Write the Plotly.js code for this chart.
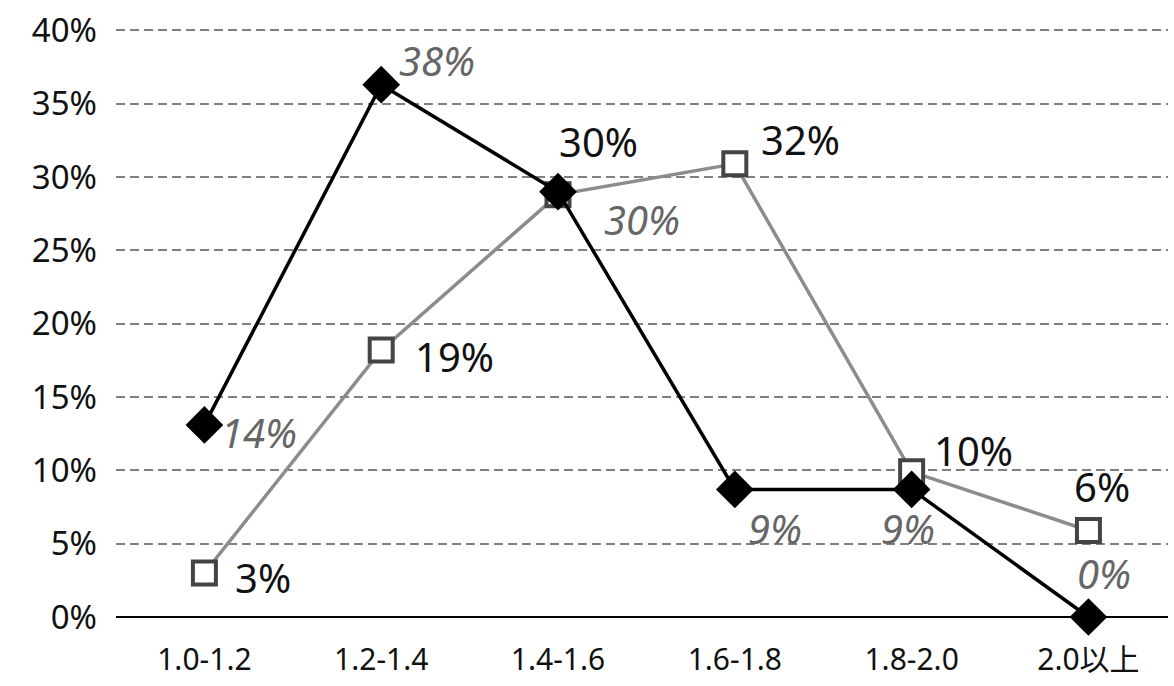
<!DOCTYPE html>
<html>
<head>
<meta charset="utf-8">
<script src="https://cdn.plot.ly/plotly-3.0.1.min.js"></script>
<style>
html,body{margin:0;padding:0;background:#fff;}
#chart{width:1174px;height:686px;}
</style>
</head>
<body>
<div id="chart"></div>
<script>
const categories = ["1.0-1.2", "1.2-1.4", "1.4-1.6", "1.6-1.8", "1.8-2.0", "2.0以上"];
// plotted positions
const blackValues = [0.131, 0.363, 0.290, 0.087, 0.087, 0.0];
const grayValues  = [0.030, 0.182, 0.288, 0.309, 0.099, 0.059];
// data labels as printed
const blackLabels = ["14%", "38%", "30%", "9%", "9%", "0%"];
const grayLabels  = ["3%", "19%", "30%", "32%", "10%", "6%"];
const yTickVals = [0, 0.05, 0.10, 0.15, 0.20, 0.25, 0.30, 0.35, 0.40];
const yTickText = ["0%", "5%", "10%", "15%", "20%", "25%", "30%", "35%", "40%"];

const FONT = "'Noto Sans', 'Noto Sans CJK TC', sans-serif";

const blackShift = [[55, -8], [56, 24], [84, -28], [40, -39], [-4, -39], [16, 44]];
const grayShift  = [[59, -4], [73, -6], [40, 53], [66, 24], [62, 21], [14, 44]];

const annotations = [];
categories.forEach((c, i) => {
  annotations.push({
    x: i, y: blackValues[i], xref: 'x', yref: 'y', text: '<i>' + blackLabels[i] + '</i>',
    showarrow: false, xshift: blackShift[i][0], yshift: blackShift[i][1],
    font: {family: FONT, size: 40, color: '#666666'}
  });
  annotations.push({
    x: i, y: grayValues[i], xref: 'x', yref: 'y', text: grayLabels[i],
    showarrow: false, xshift: grayShift[i][0], yshift: grayShift[i][1],
    font: {family: FONT, size: 40, color: '#111111'}
  });
});

const traces = [
  {
    x: categories.map((c, i) => i), y: grayValues, type: 'scatter', mode: 'lines+markers',
    line: {color: '#8c8c8c', width: 3.5},
    marker: {symbol: 'square', size: 23, color: '#ffffff', line: {color: '#444444', width: 4}},
    hoverinfo: 'skip', cliponaxis: false
  },
  {
    x: categories.map((c, i) => i), y: blackValues, type: 'scatter', mode: 'lines+markers',
    line: {color: '#000000', width: 3.5},
    marker: {symbol: 'diamond', size: 29, color: '#000000'},
    hoverinfo: 'skip', cliponaxis: false
  }
];

const layout = {
  width: 1174, height: 686,
  margin: {l: 116, r: 6, t: 26, b: 69},
  paper_bgcolor: '#ffffff', plot_bgcolor: '#ffffff',
  showlegend: false,
  xaxis: {
    range: [-0.5, 5.45],
    tickvals: categories.map((c, i) => i), ticktext: categories,
    showgrid: false, zeroline: false, showline: false,
    ticks: '', ticklabelstandoff: 22,
    tickfont: {family: FONT, size: 30, color: '#111111'}
  },
  yaxis: {
    range: [0, 0.403],
    tickvals: yTickVals, ticktext: yTickText,
    showgrid: true, gridcolor: '#808080', gridwidth: 2, griddash: '9px,5px',
    zeroline: true, zerolinecolor: '#000000', zerolinewidth: 2.5,
    showline: false, ticks: '', ticklabelstandoff: 18,
    tickfont: {family: FONT, size: 33, color: '#111111'}
  },
  annotations: annotations
};

Plotly.newPlot('chart', traces, layout, {displayModeBar: false, staticPlot: true});
</script>
</body>
</html>
